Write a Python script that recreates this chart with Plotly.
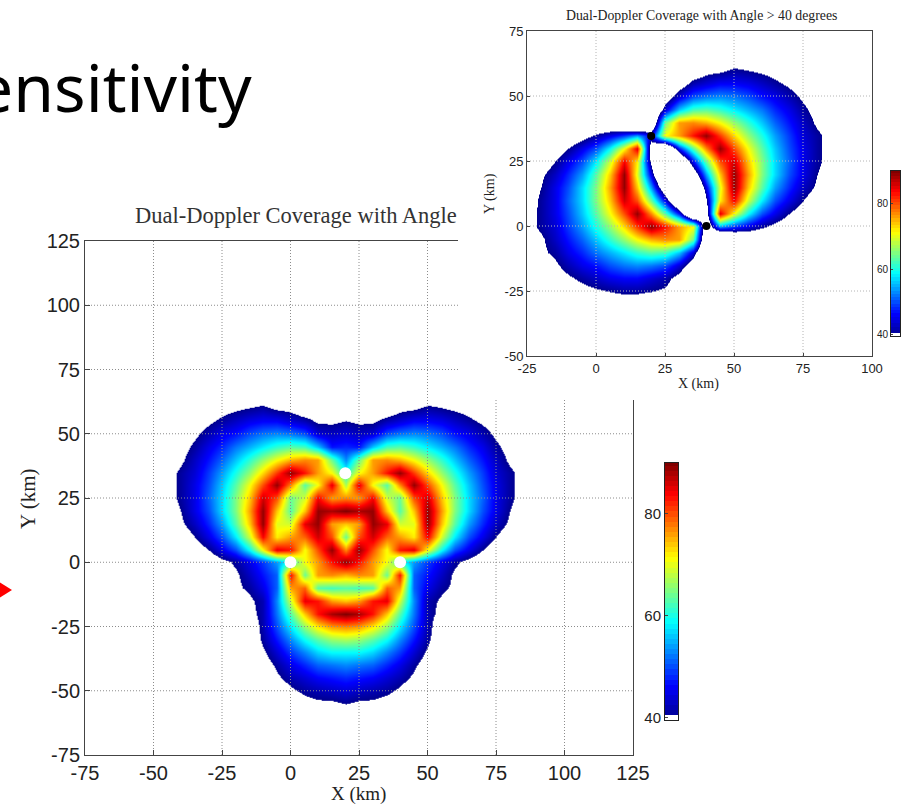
import plotly.graph_objects as go

N = None
W, H = 907, 806

# Radar sites (km), read from the white / black dots
SITE_X = [0, 40, 20]
SITE_Y = [0, 0, 34.6]
INSET_SITE_X = [40, 20]
INSET_SITE_Y = [0, 34.6]

# Large panel: crossing angle read on a 5 km grid, x = 20, 25, 30 ... for each y.
# Values under 40 lie just outside the coloured area and only place its edge.
# The panel is symmetric about x = 20, so each row lists its right half.
MAIN_Y = [65, 60, 55, 50, 45, 40, 35, 30, 25, 20, 15, 10, 5, 0, -5, -10, -15, -20, -25, -30, -35, -40, -45, -50, -55, -60]
MAIN_ROWS = [
    [30, 30, 30, 30, 33, 35, 36, 36, 36, 35],
    [37, 37, 36, 35, 38, 39, 41, 40, 39, 38, 36],
    [40, 39, 39, 42, 44, 46, 46, 45, 43, 41, 39, 37],
    [44, 43, 44, 50, 52, 53, 52, 50, 47, 45, 42, 39, 37],
    [48, 47, 56, 62, 63, 61, 58, 55, 52, 48, 45, 41, 38, 36],
    [53, 64, 76, 77, 75, 71, 66, 61, 56, 51, 47, 43, 39, 37],
    [60, 71, 76, 83, 89, 81, 73, 66, 60, 54, 49, 44, 41, 38, 35],
    [67, 85, 71, 63, 77, 89, 80, 71, 63, 56, 50, 45, 41, 38, 35],
    [77, 76, 84, 69, 64, 80, 86, 74, 65, 57, 51, 45, 41, 38, 34],
    [90, 88, 89, 74, 63, 74, 89, 76, 65, 57, 50, 45, 40, 37, 34],
    [74, 76, 89, 85, 69, 70, 89, 74, 63, 54, 48, 43, 39, 35],
    [64, 80, 86, 79, 76, 72, 84, 69, 58, 50, 45, 40, 36, 33],
    [77, 89, 80, 71, 83, 85, 71, 59, 50, 45, 40, 36, 33],
    [89, 83, 76, 71, 60, 54, 49, 45, 41, 38, 35],
    [75, 77, 76, 64, 83, 51, 47, 43, 39, 37, 35],
    [63, 62, 63, 79, 76, 51, 45, 41, 39, 36],
    [74, 76, 83, 85, 69, 53, 42, 39, 37],
    [90, 88, 83, 74, 63, 52, 42, 38, 35],
    [77, 76, 72, 66, 58, 50, 42, 35, 29],
    [67, 66, 63, 59, 53, 47, 41, 35, 30],
    [59, 59, 57, 53, 49, 44, 39, 34],
    [53, 52, 51, 48, 45, 41, 37, 33],
    [48, 47, 46, 44, 42, 39, 35],
    [44, 43, 42, 41, 39, 36],
    [40, 39, 39, 38, 36],
    [37, 37, 36, 35],
]

# Inset: angle read on a 5 km grid; each row is runs of (first x, values)
INSET_ROWS = {
    65: [(40, [33, 35, 36, 36, 36, 35])],
    60: [(35, [35, 38, 39, 41, 40, 39, 38, 36])],
    55: [(25, [29, 36, 42, 44, 46, 46, 45, 43, 41, 39, 37])],
    50: [(20, [22, 35, 44, 50, 52, 53, 52, 50, 47, 45, 42, 39, 37])],
    45: [(20, [24, 44, 56, 62, 63, 61, 58, 55, 52, 48, 45, 41, 38, 36])],
    40: [(-10, [28, 30, 30, 29, 25, 11, 27, 64, 76, 77, 75, 71, 66, 61, 56, 51, 47, 43, 39, 37])],
    35: [(-10, [34, 37, 41, 45, 49, 54, 45, 71, 76, 83, 89, 81, 73, 66, 60, 54, 49, 44, 41, 38, 35])],
    30: [(-20, [33, 36, 40, 45, 50, 59, 71, 85, 33, 20, 47, 63, 77, 89, 80, 71, 63, 56, 50, 45, 41, 38, 35])],
    25: [(-25, [33, 36, 40, 45, 50, 58, 69, 84, 72, 38, 4, 24, 46, 64, 80, 86, 74, 65, 57, 51, 45, 41, 38, 34])],
    20: [(-25, [35, 39, 43, 48, 54, 63, 74, 89, 70, 45, 18, 8, 32, 54, 74, 89, 76, 65, 57, 50, 45, 40, 37, 34])],
    15: [(-25, [37, 40, 45, 50, 57, 65, 76, 89, 74, 54, 31, 7, 19, 45, 70, 89, 74, 63, 54, 48, 43, 39, 35])],
    10: [(-30, [34, 37, 41, 45, 51, 57, 65, 74, 86, 80, 64, 46, 23, 5, 39, 72, 84, 69, 58, 50, 45, 40, 36, 33])],
    5: [(-30, [35, 38, 41, 45, 50, 56, 63, 71, 80, 89, 77, 63, 47, 18, 34, 85, 71, 59, 50, 45, 40, 36, 33])],
    0: [(-30, [35, 38, 41, 44, 49, 54, 60, 66, 73, 81, 89, 83, 76, 71, 30, 54, 49, 45, 41, 38, 35])],
    -5: [(-25, [37, 39, 43, 47, 51, 56, 61, 66, 71, 75, 77, 76, 64, 27, 13, 26, 30, 31, 30])],
    -10: [(-25, [36, 39, 41, 45, 48, 52, 55, 58, 61, 63, 62, 56, 44, 24, 2])],
    -15: [(-20, [37, 39, 42, 45, 47, 50, 52, 53, 52, 50, 44, 35, 22])],
    -20: [(-15, [37, 39, 41, 43, 45, 46, 46, 44, 42, 37, 29])],
    -25: [(-10, [37, 38, 39, 40, 41, 41, 40, 39, 36])],
    -30: [(-5, [35, 36, 36, 36, 35, 34])],
}

MAIN_TICKS = [-75, -50, -25, 0, 25, 50, 75, 100, 125]
INSET_X_TICKS = [-25, 0, 25, 50, 75, 100]
INSET_Y_TICKS = [-50, -25, 0, 25, 50, 75]
CBAR_LEVELS = list(range(40, 91))
CBAR_TICKS = [40, 60, 80]

ZMIN, ZMAX = 30, 90
# white below 40, then the usual blue-to-dark-red ramp from 40 to 90
STEP = 1 / 6
JET = [[0, "#ffffff"], [STEP - 1e-4, "#ffffff"], [STEP, "#00008f"]]
for pos, col in [(0.125, "#0000ff"), (0.375, "#00ffff"), (0.625, "#ffff00"), (0.875, "#ff0000"), (1, "#800000")]:
    JET.append([STEP + (1 - STEP) * pos, col])


def main_grid():
    half = len(max(MAIN_ROWS, key=len))
    out = []
    for row in MAIN_ROWS:
        r = list(row) + [N] * (half - len(row))
        out.append(r[:0:-1] + r)
    xs = [20 + 5 * i for i in range(-(half - 1), half)]
    return xs, out


def inset_grid():
    xs = list(range(-30, 95, 5))
    ys = sorted(INSET_ROWS, reverse=True)
    out = []
    for y in ys:
        r = [N] * len(xs)
        for start, vals in INSET_ROWS[y]:
            for k, v in enumerate(vals):
                r[xs.index(start + 5 * k)] = v
        out.append(r)
    return xs, ys, out


def dom_x(a, b):
    return [a / W, b / W]


def dom_y(top, bottom):
    return [1 - bottom / H, 1 - top / H]


def grid_trace(xt, yt, xr, yr, xa, ya, color):
    gx, gy = [], []
    for t in xt[1:-1]:
        gx += [t, t, N]
        gy += [yr[0], yr[1], N]
    for t in yt[1:-1]:
        gx += [xr[0], xr[1], N]
        gy += [t, t, N]
    return go.Scatter(x=gx, y=gy, mode="lines", line=dict(color=color, width=1, dash="1px,2px"),
                      xaxis=xa, yaxis=ya, hoverinfo="skip", showlegend=False)


fig = go.Figure()

mx, mz = main_grid()
fig.add_trace(go.Heatmap(x=mx, y=MAIN_Y, z=mz, colorscale=JET, zmin=ZMIN, zmax=ZMAX, zsmooth="best",
                         showscale=False, xaxis="x", yaxis="y", hoverongaps=False))
fig.add_trace(grid_trace(MAIN_TICKS, MAIN_TICKS, [-75, 125], [-75, 125], "x", "y", "#8c8c8c"))
fig.add_trace(go.Scatter(x=SITE_X, y=SITE_Y, mode="markers", marker=dict(color="white", size=12),
                         xaxis="x", yaxis="y", showlegend=False))

# blank white panel behind the inset: it hides the corner of the large panel
fig.add_trace(go.Scatter(x=[N], y=[N], mode="markers", xaxis="x2", yaxis="y2", showlegend=False))

ix, iy, iz = inset_grid()
fig.add_trace(go.Heatmap(x=ix, y=iy, z=iz, colorscale=JET, zmin=ZMIN, zmax=ZMAX, zsmooth="best",
                         showscale=False, xaxis="x3", yaxis="y3", hoverongaps=False))
fig.add_trace(grid_trace(INSET_X_TICKS, INSET_Y_TICKS, [-25, 100], [-50, 75], "x3", "y3", "#b4b4b4"))
fig.add_trace(go.Scatter(x=INSET_SITE_X, y=INSET_SITE_Y, mode="markers", marker=dict(color="black", size=8),
                         xaxis="x3", yaxis="y3", showlegend=False))

cb_z = [[ZMIN if v == CBAR_LEVELS[0] else v] for v in CBAR_LEVELS]
for xa, ya in (("x4", "y4"), ("x5", "y5")):
    fig.add_trace(go.Heatmap(x=[0], y=CBAR_LEVELS, z=cb_z, colorscale=JET, zmin=ZMIN, zmax=ZMAX,
                             showscale=False, xaxis=xa, yaxis=ya, hoverinfo="skip"))

LS = "Liberation Sans"
TNR = "Liberation Serif"
INK = "#222222"
AX = dict(showgrid=False, zeroline=False, showline=True, mirror=True, linecolor="#444444", linewidth=1,
          ticks="inside", ticklen=5, tickcolor="#444444", automargin=False)


def labels(vals):
    return [str(v) for v in vals]


def note(text, px, py, size, family=TNR, color=INK, xanchor="center", angle=0):
    return dict(text=text, xref="paper", yref="paper", x=px / W, y=1 - py / H, xanchor=xanchor, yanchor="middle",
                showarrow=False, textangle=angle, font=dict(family=family, size=size, color=color))


layout_axes = dict(
    xaxis=dict(AX, domain=dom_x(85, 633), range=[-75, 125], tickvals=MAIN_TICKS, ticktext=labels(MAIN_TICKS),
               anchor="y", tickfont=dict(family=LS, size=20, color=INK)),
    yaxis=dict(AX, domain=dom_y(241, 755), range=[-75, 125], tickvals=MAIN_TICKS, ticktext=labels(MAIN_TICKS),
               anchor="x", tickfont=dict(family=LS, size=20, color=INK)),
    xaxis2=dict(domain=dom_x(458, 907), visible=False, anchor="y2", range=[0, 1], automargin=False),
    yaxis2=dict(domain=dom_y(0, 400), visible=False, anchor="x2", range=[0, 1], automargin=False),
    xaxis3=dict(AX, domain=dom_x(527, 872), range=[-25, 100], tickvals=INSET_X_TICKS,
                ticktext=labels(INSET_X_TICKS), anchor="y3", ticklen=3,
                tickfont=dict(family=LS, size=13, color=INK)),
    yaxis3=dict(AX, domain=dom_y(31, 356), range=[-50, 75], tickvals=INSET_Y_TICKS,
                ticktext=labels(INSET_Y_TICKS), anchor="x3", ticklen=3,
                tickfont=dict(family=LS, size=13, color=INK)),
    xaxis4=dict(domain=dom_x(665, 678), showticklabels=False, ticks="", showline=True, mirror=True,
                linecolor=INK, anchor="y4", showgrid=False, zeroline=False, automargin=False),
    yaxis4=dict(domain=dom_y(463, 720), range=[39.5, 90], tickvals=CBAR_TICKS, ticks="inside", ticklen=3,
                showline=True, mirror=True, linecolor=INK, anchor="x4", showgrid=False, zeroline=False,
                automargin=False, tickfont=dict(family=LS, size=15, color=INK)),
    xaxis5=dict(domain=dom_x(891, 900), showticklabels=False, ticks="", showline=True, mirror=True,
                linecolor=INK, anchor="y5", showgrid=False, zeroline=False, automargin=False),
    yaxis5=dict(domain=dom_y(171, 336), range=[39.5, 90], tickvals=CBAR_TICKS, ticks="inside", ticklen=2,
                showline=True, mirror=True, linecolor=INK, anchor="x5", showgrid=False, zeroline=False,
                automargin=False, tickfont=dict(family=LS, size=10, color=INK)),
)

fig.update_layout(
    width=W, height=H, margin=dict(l=0, r=0, t=0, b=0), autosize=False,
    paper_bgcolor="white", plot_bgcolor="white", showlegend=False,
    annotations=[
        note("Dual-Doppler Coverage with Angle", 133, 216, 22.5, color="#333333", xanchor="left"),
        note("Dual-Doppler Coverage with Angle > 40 degrees", 701, 15, 13.8),
        note("ensitivity", 254, 86, 66, family="Noto Sans", color="black", xanchor="right"),
        note("X (km)", 358, 794, 19),
        note("Y (km)", 28, 499, 21, angle=-90),
        note("X (km)", 698, 384, 14),
        note("Y (km)", 490, 194, 14, angle=-90),
    ],
    shapes=[dict(type="path", xref="paper", yref="paper", fillcolor="red", line=dict(width=0),
                 path=f"M {-1 / W} {1 - 582 / H} L {12 / W} {1 - 590 / H} L {-1 / W} {1 - 598 / H} Z")],
    **layout_axes,
)

fig.write_html("out.html", config={"displayModeBar": False},
               post_script="document.body.style.margin='0';")
